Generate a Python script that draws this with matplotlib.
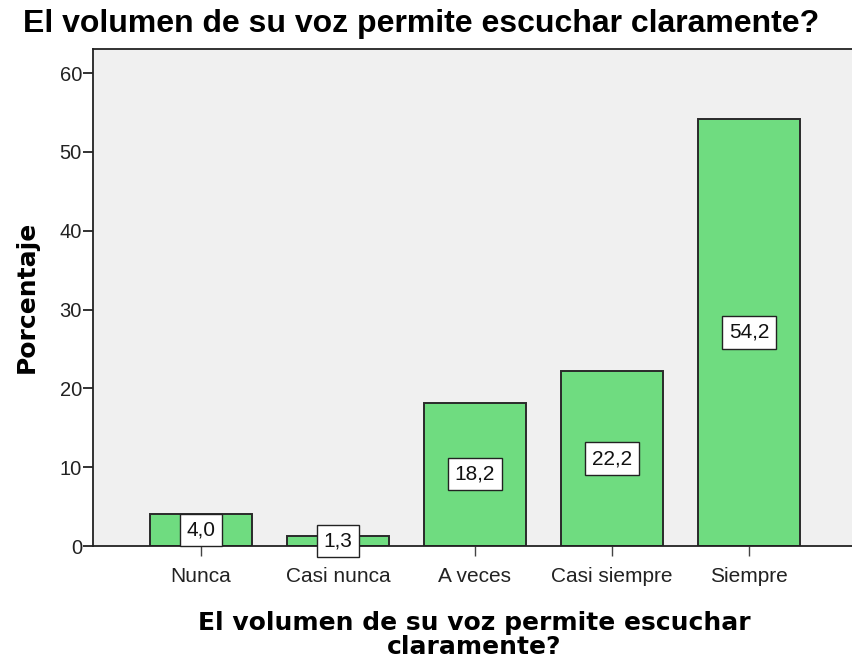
import matplotlib
matplotlib.use("Agg")
import matplotlib.pyplot as plt

categories = ["Nunca", "Casi nunca", "A veces", "Casi siempre", "Siempre"]
values = [4.0, 1.3, 18.2, 22.2, 54.2]
labels = ["4,0", "1,3", "18,2", "22,2", "54,2"]
yticks = [0, 10, 20, 30, 40, 50, 60]

plt.rcParams['font.family'] = ['Liberation Sans', 'DejaVu Sans']

fig = plt.figure(figsize=(8.52, 6.63), dpi=100)
ax = fig.add_axes([93/852, 1-546/663, 1-93/852, (546-49)/663])
ax.set_facecolor("#f0f0f0")

x = list(range(len(categories)))
ax.bar(x, values, width=0.75, color="#6fdc80", edgecolor="#2a2a2a", linewidth=1.4, zorder=2)
for xi, v, lab in zip(x, values, labels):
    ax.text(xi, v/2, lab, ha="center", va="center", fontsize=15, color="#111111", zorder=4,
            bbox=dict(boxstyle="square,pad=0.32", facecolor="white", edgecolor="#222222", linewidth=1.0))

ax.set_xlim(-0.788, -0.788 + 759/137)
ax.set_ylim(0, 63.07)
ax.set_yticks(yticks)
ax.set_yticklabels([str(t) for t in yticks], fontsize=14.5, color="#222222")
ax.set_xticks(x)
ax.set_xticklabels(categories, fontsize=15, color="#222222")
ax.tick_params(axis="y", direction="out", length=7, width=1.3, color="#222222", pad=1)
ax.tick_params(axis="x", direction="out", length=7, width=1.0, color="#444444", pad=8)
for s in ["left", "bottom", "top"]:
    ax.spines[s].set_color("#222222")
    ax.spines[s].set_linewidth(1.3)
ax.spines["right"].set_visible(False)

fig.text(27/852, 1-297/663, "Porcentaje", rotation=90, ha="center", va="center",
         fontsize=18, fontweight="bold", family="DejaVu Sans")
fig.text(474/852, 1-635/663, "El volumen de su voz permite escuchar\nclaramente?", ha="center", va="center",
         fontsize=18, fontweight="bold", linespacing=0.98, family="DejaVu Sans")
fig.text(421/852, 1-24/663, "El volumen de su voz permite escuchar claramente?", ha="center", va="center",
         fontsize=23, fontweight="bold")

fig.savefig("out.png", dpi=100)
